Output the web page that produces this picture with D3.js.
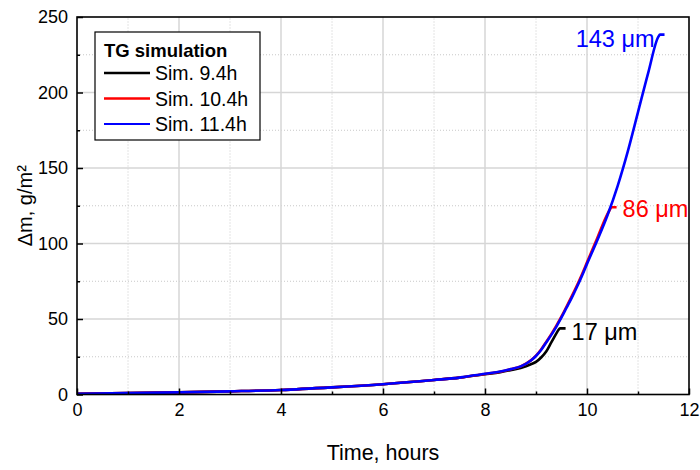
<!DOCTYPE html>
<html><head><meta charset="utf-8">
<script src="https://cdn.jsdelivr.net/npm/d3@7"></script>
<style>body{margin:0;background:#fff;} svg{display:block;font-family:"Liberation Sans",Arial,sans-serif;}</style>
</head><body>
<script>
// ---- data ----
const xTicks = [0, 2, 4, 6, 8, 10, 12];
const yTicks = [0, 50, 100, 150, 200, 250];
const seriesNames = ["Sim. 9.4h", "Sim. 10.4h", "Sim. 11.4h"];
const seriesColors = ["#000000", "#ff0000", "#0000ff"];
const endLabels = ["17 μm", "86 μm", "143 μm"];

const simX94  = [0, 1, 2, 3, 4, 5, 6, 7, 7.5, 8, 8.3, 8.5, 8.7, 8.9, 9.0, 9.1, 9.2, 9.3, 9.4, 9.44, 9.47, 9.58];
const simY94  = [0.5, 0.9, 1.4, 2.1, 3.0, 4.7, 6.8, 9.6, 11.2, 13.4, 14.8, 16.1, 17.6, 20.0, 21.6, 24.5, 28.5, 34.5, 40.5, 42.7, 43.8, 43.8];
const simX104 = [0, 1, 2, 3, 4, 5, 6, 7, 7.5, 8, 8.3, 8.5, 8.7, 8.9, 9.0, 9.1, 9.2, 9.3, 9.4, 9.5, 9.6, 9.7, 9.8, 9.9, 10.0, 10.2, 10.4, 10.45, 10.48, 10.58];
const simY104 = [0.5, 0.9, 1.4, 2.1, 3.0, 4.7, 6.8, 9.6, 11.2, 13.6, 15.1, 16.7, 18.6, 22.6, 25.7, 29.8, 34.8, 40.0, 45.6, 51.7, 58.3, 65.0, 72.0, 79.5, 87.5, 103.5, 119.5, 122.5, 124.0, 124.0];
const simX114 = [0, 1, 2, 3, 4, 5, 6, 7, 7.5, 8, 8.3, 8.5, 8.7, 8.9, 9.0, 9.1, 9.2, 9.3, 9.4, 9.5, 9.6, 9.7, 9.8, 9.9, 10.0, 10.2, 10.4, 10.6, 10.8, 11.0, 11.2, 11.4, 11.43, 11.52];
const simY114 = [0.5, 0.9, 1.4, 2.1, 3.0, 4.7, 6.8, 9.6, 11.2, 13.8, 15.2, 16.8, 18.6, 22.5, 25.5, 29.5, 34.5, 39.5, 45.0, 51.0, 57.5, 64.0, 71.0, 78.5, 86.5, 102.0, 118.5, 138.0, 161.0, 187.0, 213.0, 237.0, 238.3, 238.3];

const seriesX = [simX94, simX104, simX114];
const seriesY = [simY94, simY104, simY114];

// ---- layout ----
const W = 700, H = 470;
const M = {left: 77, right: 11, top: 17, bottom: 75.5};
const svg = d3.select("body").append("svg").attr("width", W).attr("height", H);
const x = d3.scaleLinear().domain([0, 12]).range([M.left, W - M.right]);
const y = d3.scaleLinear().domain([0, 250]).range([H - M.bottom, M.top]);

// grid
const minorX = d3.range(1, 12, 2);
const minorY = d3.range(25, 250, 50);
const g = svg.append("g");
g.selectAll(".mnx").data(minorX).join("line")
  .attr("x1", d => x(d)).attr("x2", d => x(d)).attr("y1", y(0)).attr("y2", y(250))
  .attr("stroke", "#c8c8c8").attr("stroke-width", 1).attr("stroke-dasharray", "1,2");
g.selectAll(".mny").data(minorY).join("line")
  .attr("y1", d => y(d)).attr("y2", d => y(d)).attr("x1", x(0)).attr("x2", x(12))
  .attr("stroke", "#c8c8c8").attr("stroke-width", 1).attr("stroke-dasharray", "1,2");
g.selectAll(".mjx").data(xTicks.slice(1, -1)).join("line")
  .attr("x1", d => x(d)).attr("x2", d => x(d)).attr("y1", y(0)).attr("y2", y(250))
  .attr("stroke", "#d6d6d6").attr("stroke-width", 1.5);
g.selectAll(".mjy").data(yTicks.slice(1, -1)).join("line")
  .attr("y1", d => y(d)).attr("y2", d => y(d)).attr("x1", x(0)).attr("x2", x(12))
  .attr("stroke", "#d6d6d6").attr("stroke-width", 1.5);

// curves
const line = d3.line().x(d => x(d[0])).y(d => y(d[1])).curve(d3.curveMonotoneX);
seriesX.forEach((xs, i) => {
  const pts = xs.map((v, j) => [v, seriesY[i][j]]);
  svg.append("path").datum(pts).attr("d", line)
    .attr("fill", "none").attr("stroke", seriesColors[i]).attr("stroke-width", 2.6)
    .attr("stroke-linejoin", "round");
});

// frame
svg.append("rect").attr("x", x(0)).attr("y", y(250)).attr("width", x(12) - x(0)).attr("height", y(0) - y(250))
  .attr("fill", "none").attr("stroke", "#000").attr("stroke-width", 1.6);

// axes with inward ticks
svg.append("g").attr("transform", `translate(0,${y(0)})`)
  .call(d3.axisBottom(x).tickValues(xTicks).tickSize(-6).tickPadding(9).tickFormat(d3.format("d")));
svg.append("g").attr("transform", `translate(0,${y(0)})`)
  .call(d3.axisBottom(x).tickValues(minorX).tickSize(-3).tickFormat(""));
svg.append("g").attr("transform", `translate(${x(0)},0)`)
  .call(d3.axisLeft(y).tickValues(yTicks).tickSize(-6).tickPadding(9).tickFormat(d3.format("d")));
svg.append("g").attr("transform", `translate(${x(0)},0)`)
  .call(d3.axisLeft(y).tickValues(minorY).tickSize(-3).tickFormat(""));
svg.selectAll(".domain").remove();
svg.selectAll(".tick line").attr("stroke", "#000").attr("stroke-width", 1.5);
svg.selectAll(".tick text").attr("font-size", 18).attr("fill", "#000")
  .attr("font-family", "'Liberation Sans', Arial, sans-serif");

// axis titles
svg.append("text").attr("x", (x(0) + x(12)) / 2).attr("y", 460).attr("text-anchor", "middle")
  .attr("font-size", 21.5).text("Time, hours");
svg.append("text").attr("transform", `translate(32,${(y(0) + y(250)) / 2}) rotate(-90)`)
  .attr("text-anchor", "middle").attr("font-size", 20).text("Δm, g/m²");

// end labels
const lblPos = [
  {dx: 6, dy: 12, anchor: "start"},
  {dx: 6, dy: 10, anchor: "start"},
  {dx: -10, dy: 12, anchor: "end"}
];
seriesX.forEach((xs, i) => {
  const n = xs.length - 1;
  const px = x(xs[n]), py = y(seriesY[i][n]);
  svg.append("text").attr("x", px + lblPos[i].dx).attr("y", py + lblPos[i].dy)
    .attr("text-anchor", lblPos[i].anchor).attr("font-size", 23.5).attr("fill", seriesColors[i])
    .text(endLabels[i]);
});

// legend
const lg = svg.append("g");
lg.append("rect").attr("x", 95).attr("y", 32).attr("width", 165).attr("height", 108)
  .attr("fill", "#fff").attr("stroke", "#000").attr("stroke-width", 1.2);
lg.append("text").attr("x", 104).attr("y", 57).attr("font-size", 18.5).attr("font-weight", "bold").text("TG simulation");
seriesNames.forEach((s, i) => {
  const yy = 73 + i * 25.5;
  lg.append("line").attr("x1", 104).attr("x2", 150).attr("y1", yy).attr("y2", yy)
    .attr("stroke", seriesColors[i]).attr("stroke-width", i === 2 ? 1.8 : 2.4);
  lg.append("text").attr("x", 155).attr("y", yy + 7).attr("font-size", 19.5).text(s);
});
</script>
</body></html>
